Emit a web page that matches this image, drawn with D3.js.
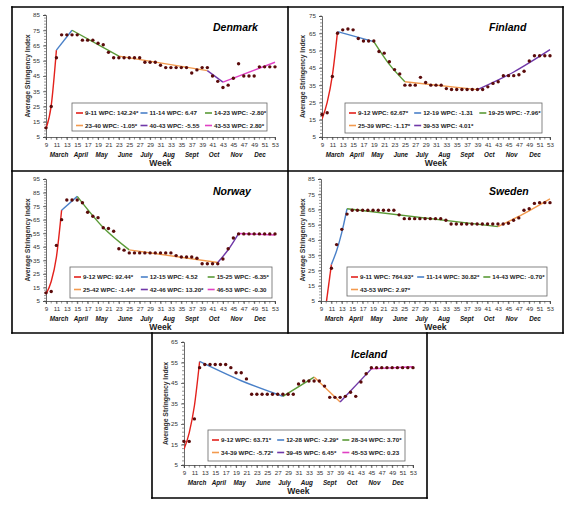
<!DOCTYPE html>
<html><head><meta charset="utf-8">
<script src="https://cdn.jsdelivr.net/npm/d3@7"></script>
<style>
body{margin:0;background:#fff;}
svg{display:block;font-family:"Liberation Sans",Arial,sans-serif;}
</style>
</head><body>
<svg id="c" width="584" height="506"></svg>
<script>
// ---------- DATA ----------
const weeks = [9,10,11,12,13,14,15,16,17,18,19,20,21,22,23,24,25,26,27,28,29,30,31,32,33,34,35,36,37,38,39,40,41,42,43,44,45,46,47,48,49,50,51,52,53];
const xTickLabels = [9,11,13,15,17,19,21,23,25,27,29,31,33,35,37,39,41,43,45,47,49,51,53];
const monthNames = ["March","April","May","June","July","Aug","Sept","Oct","Nov","Dec"];
const monthWeeks = [11.5,15.7,19.7,24.2,28.3,32.6,37,41.3,45.6,50.1];
const segColors = ["#e3211c","#4a80c8","#5a9a36","#f39a4e","#7038a8","#e040c4"];

const denmarkIndex = [11,25,57,72,72,72,72,68.5,68.5,68.5,66.5,65.5,60.5,57,57,57,57,57,57,54,54,54,52,50.5,50.5,50.5,50.5,50.5,47,49,50.5,50.5,45,41.5,37.5,39,43.5,53,45,45,45,51,51,51,51];
const denmarkJoints = [9,11,14,23,40,43,53];
const denmarkFitWeeks = [9,10,11,14,23,40,43,53];
const denmarkFitValues = [10.6,25.6,62,75,58,48.5,41,54];
const denmarkLabels = ["9-11 WPC: 142.24*","11-14 WPC: 6.47","14-23 WPC: -2.80*","23-40 WPC: -1.05*","40-43 WPC: -5.55","43-53 WPC: 2.80*"];
const denmarkYTicks = [5,15,25,35,45,55,65,75,85];

const finlandIndex = [18,19,40,65,67,67.5,67,62,60.5,60.5,60.5,54.5,53.5,48.5,44,41.5,35,35,35,39.5,36.5,35,35,35,33,32.5,32.5,32.5,32.5,32.5,32.5,32.5,34,36,37,40.5,40.5,40.5,41,43,49,52,52,52,52];
const finlandJoints = [9,12,19,25,39,53];
const finlandFitWeeks = [9,10,11,12,19,22,25,39,46,53];
const finlandFitValues = [15.3,25,40.6,66,60.2,47,37,32.4,42.6,55.5];
const finlandLabels = ["9-12 WPC: 62.67*","12-19 WPC: -1.31","19-25 WPC: -7.96*","25-39 WPC: -1.17*","39-53 WPC: 4.01*"];
const finlandYTicks = [5,15,25,35,45,55,65,75];

const norwayIndex = [11,12,46,65,79.5,79.5,79.5,77.5,70.5,67.5,66.5,59,58.5,56.5,43.5,42.5,40.5,40.5,40.5,40.5,40.5,40.5,40.5,40.5,40.5,38.5,37.5,37.5,37.5,36.5,32.5,32.5,32.5,32.5,36,43.5,51.5,54.5,54.5,54.5,54.5,54.5,54.5,54.5,54.5];
const norwayJoints = [9,12,15,25,42,46,53];
const norwayFitWeeks = [9,10,11,12,15,20,25,42,44,46,53];
const norwayFitValues = [10.1,19.4,37.4,72,82.2,59.2,42.7,33.4,42.8,54.8,53.7];
const norwayLabels = ["9-12 WPC: 92.44*","12-15 WPC: 4.52","15-25 WPC: -6.35*","25-42 WPC: -1.44*","42-46 WPC: 13.20*","46-53 WPC: -0.30"];
const norwayYTicks = [5,15,25,35,45,55,65,75,85,95];

const swedenIndex = [null,null,26.5,42,52,62,64.5,64.5,64.5,64.5,64.5,64.5,64.5,64.5,64.5,61.5,59,59,59,59,59,59,59,59,58,55.5,55.5,55.5,55.5,55.5,55.5,55.5,55.5,55.5,55.5,55.5,56,58,59.5,64.5,65.5,69,69.5,69.5,69.5];
const swedenJoints = [9,11,14,43,53];
const swedenFitWeeks = [10,11,12,13,14,43,48,53];
const swedenFitValues = [3.4,29,38,50,65.5,53.8,62.3,72];
const swedenLabels = ["9-11 WPC: 764.93*","11-14 WPC: 30.82*","14-43 WPC: -0.70*","43-53 WPC: 2.97*"];
const swedenYTicks = [5,15,25,35,45,55,65,75,85];

const icelandIndex = [16.5,16.5,27.5,52.5,54,54,54,54,54,52.5,50,50,47,39.5,39.5,39.5,39.5,39.5,39.5,39.5,39.5,39.5,44.5,46,46,46,46,43.5,38,38,38,38.5,40.5,38.5,45.5,49.5,52.5,52.5,52.5,52.5,52.5,52.5,52.5,52.5,52.5];
const icelandJoints = [9,12,28,34,39,45,53];
const icelandFitWeeks = [9,10,11,12,20,28,34,39,45,53];
const icelandFitValues = [12.7,20.7,33.9,55.5,46.1,38.5,47.9,35.7,51.9,52.9];
const icelandLabels = ["9-12 WPC: 63.71*","12-28 WPC: -2.29*","28-34 WPC: 3.70*","34-39 WPC: -5.72*","39-45 WPC: 6.45*","45-53 WPC: 0.23"];
const icelandYTicks = [5,15,25,35,45,55,65];

const panels = [
  {name:"Denmark", idx:denmarkIndex, joints:denmarkJoints, fw:denmarkFitWeeks, fv:denmarkFitValues, labels:denmarkLabels, yTicks:denmarkYTicks},
  {name:"Finland", idx:finlandIndex, joints:finlandJoints, fw:finlandFitWeeks, fv:finlandFitValues, labels:finlandLabels, yTicks:finlandYTicks},
  {name:"Norway", idx:norwayIndex, joints:norwayJoints, fw:norwayFitWeeks, fv:norwayFitValues, labels:norwayLabels, yTicks:norwayYTicks},
  {name:"Sweden", idx:swedenIndex, joints:swedenJoints, fw:swedenFitWeeks, fv:swedenFitValues, labels:swedenLabels, yTicks:swedenYTicks},
  {name:"Iceland", idx:icelandIndex, joints:icelandJoints, fw:icelandFitWeeks, fv:icelandFitValues, labels:icelandLabels, yTicks:icelandYTicks}
];

// ---------- LAYOUT ----------
const layout = {
  Denmark:{x:[46,275], y:[137,15], titleX:213, titleY:31, yTitleX:27, legend:[72,103,195,28]},
  Finland:{x:[322,550], y:[137,16], titleX:489, titleY:31, yTitleX:302, legend:[345,103,197,30]},
  Norway: {x:[46,275], y:[301,179], titleX:213, titleY:195, yTitleX:27, legend:[70,267,202,31]},
  Sweden: {x:[321,550], y:[301,179], titleX:489, titleY:195, yTitleX:302, legend:[347,267,200,29]},
  Iceland:{x:[184,413], y:[465,342], titleX:351, titleY:358, yTitleX:165, legend:[208,430,197,31]}
};
const frame = [
  [12,7,563,7],[12,171,563,171],[12,333,563,333],
  [12,7,12,333],[288,7,288,333],[563,7,563,333],
  [152,333,152,498],[427,333,427,498],[152,498,427,498]
];

const svg = d3.select("#c");
svg.append("rect").attr("width",584).attr("height",506).attr("fill","#fff");

svg.append("g").selectAll("line").data(frame).join("line")
  .attr("x1",d=>d[0]).attr("y1",d=>d[1]).attr("x2",d=>d[2]).attr("y2",d=>d[3])
  .attr("stroke","#000").attr("stroke-width",1.6).attr("stroke-linecap","square");

panels.forEach(p => {
  const L = layout[p.name];
  const g = svg.append("g");
  const x = d3.scaleLinear().domain([9,53]).range(L.x);
  const yMax = d3.max(p.yTicks);
  const y = d3.scaleLinear().domain([5,yMax]).range(L.y);
  const clipId = "clip-"+p.name;
  svg.append("clipPath").attr("id",clipId).append("rect")
    .attr("x",L.x[0]).attr("y",L.y[1]-3).attr("width",L.x[1]-L.x[0]+4).attr("height",L.y[0]-L.y[1]+3);

  const yMinor = d3.range(5, yMax+0.01, 2);
  g.append("g").selectAll("line").data(yMinor).join("line")
    .attr("x1",L.x[0]-2).attr("x2",L.x[0]).attr("y1",d=>y(d)).attr("y2",d=>y(d))
    .attr("stroke","#555").attr("stroke-width",0.6);
  const ya = g.append("g").attr("transform",`translate(${L.x[0]},0)`)
    .call(d3.axisLeft(y).tickValues(p.yTicks).tickSize(3).tickPadding(3).tickFormat(d3.format("d")));
  ya.selectAll("text").attr("font-size",6.2).attr("fill","#333").attr("font-family","Liberation Sans, Arial, sans-serif");
  ya.select(".domain").attr("stroke","#444").attr("stroke-width",0.8);
  ya.selectAll(".tick line").attr("stroke","#444").attr("stroke-width",0.7);

  g.append("g").selectAll("line").data(weeks).join("line")
    .attr("x1",d=>x(d)).attr("x2",d=>x(d)).attr("y1",L.y[0]).attr("y2",L.y[0]+2.5)
    .attr("stroke","#555").attr("stroke-width",0.6);
  const xa = g.append("g").attr("transform",`translate(0,${L.y[0]})`)
    .call(d3.axisBottom(x).tickValues(xTickLabels).tickSize(3).tickPadding(3).tickFormat(d3.format("d")));
  xa.selectAll("text").attr("font-size",6.2).attr("fill","#333").attr("font-family","Liberation Sans, Arial, sans-serif");
  xa.select(".domain").attr("stroke","#444").attr("stroke-width",0.8);
  xa.selectAll(".tick line").attr("stroke","#444").attr("stroke-width",0.7);

  g.append("g").selectAll("text").data(monthNames).join("text")
    .attr("x",(d,i)=>x(monthWeeks[i])).attr("y",L.y[0]+20)
    .attr("text-anchor","middle").attr("font-size",6.3).attr("font-weight","bold").attr("font-style","italic")
    .attr("fill","#111").text(d=>d);
  g.append("text").attr("x",(L.x[0]+L.x[1])/2).attr("y",L.y[0]+29)
    .attr("text-anchor","middle").attr("font-size",8.6).attr("font-weight","bold").attr("fill","#222").text("Week");
  const ym = (L.y[0]+L.y[1])/2;
  g.append("text").attr("transform",`translate(${L.yTitleX+2.5},${ym}) rotate(-90)`)
    .attr("text-anchor","middle").attr("font-size",6.8).attr("font-weight","bold").attr("fill","#333")
    .text("Average Stringency Index");
  g.append("text").attr("x",L.titleX).attr("y",L.titleY)
    .attr("font-size",10.5).attr("font-weight","bold").attr("font-style","italic")
    .attr("fill","#000").text(p.name);

  const lg = g.append("g").attr("clip-path",`url(#${clipId})`);
  const pts = p.fw.map((w,j)=>[w,p.fv[j]]);
  const line = d3.line().x(d=>x(d[0])).y(d=>y(d[1])).curve(d3.curveMonotoneX);
  p.joints.slice(0,-1).forEach((s,i)=>{
    const e = p.joints[i+1];
    const seg = pts.filter(d=>d[0]>=s && d[0]<=e);
    lg.append("path").datum(seg).attr("d",line).attr("fill","none")
      .attr("stroke",segColors[i]).attr("stroke-width",1.4);
  });
  const dd = weeks.map((w,j)=>[w,p.idx[j]]).filter(d=>d[1]!==null);
  g.append("g").selectAll("circle").data(dd).join("circle")
    .attr("cx",d=>x(d[0])).attr("cy",d=>y(d[1])).attr("r",1.7).attr("fill","#5a0b0b");

  const [bx,by,bw,bh] = L.legend;
  const lgd = g.append("g");
  lgd.append("rect").attr("x",bx).attr("y",by).attr("width",bw).attr("height",bh)
    .attr("fill","#fff").attr("stroke","#666").attr("stroke-width",0.8);
  const colW = bw/3 - 0.5;
  p.labels.forEach((lab,i)=>{
    const cx = bx+4+(i%3)*colW, cy = by+10+Math.floor(i/3)*12.5;
    lgd.append("line").attr("x1",cx).attr("x2",cx+7).attr("y1",cy).attr("y2",cy)
      .attr("stroke",segColors[i]).attr("stroke-width",1.6);
    lgd.append("text").attr("x",cx+9).attr("y",cy+2.2).attr("font-size",6.2).attr("font-weight","bold")
      .attr("fill","#222").text(lab);
  });
});
</script>
</body></html>
